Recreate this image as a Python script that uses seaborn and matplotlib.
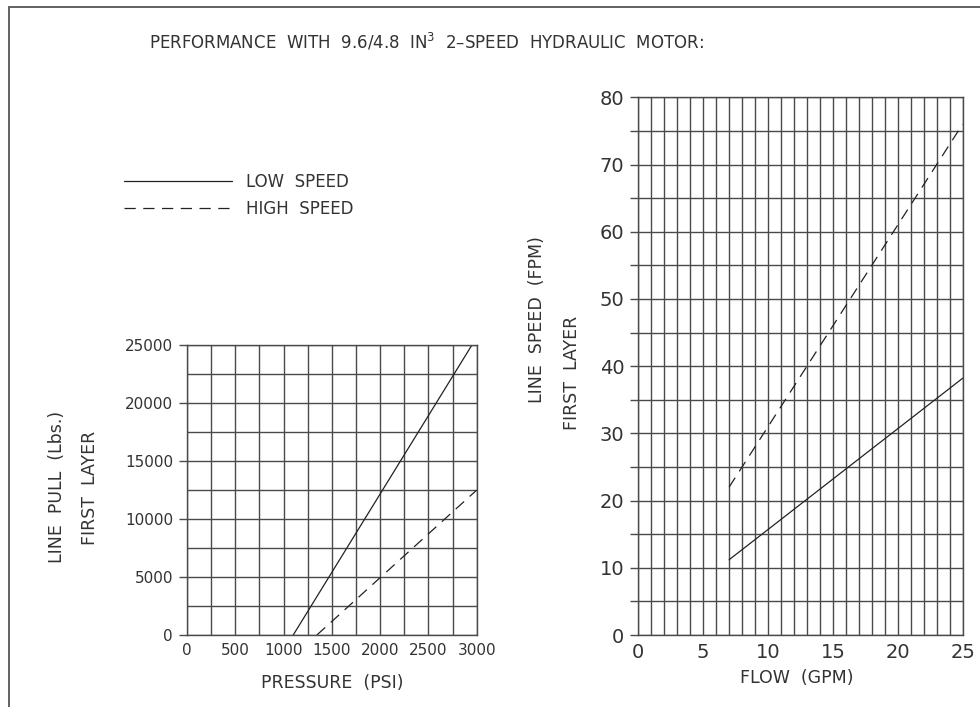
import pandas as pd
import matplotlib.pyplot as plt
import seaborn as sns
from matplotlib.lines import Line2D
from matplotlib.patches import Rectangle
from matplotlib.ticker import MultipleLocator

# valeurs
speeds = ['LOW SPEED', 'HIGH SPEED']
pressure_low = [1100, 2950]
pull_low = [0, 25000]
pressure_high = [1345, 3000]
pull_high = [0, 12500]
flow_low = [7, 25]
speed_low = [11.2, 38.2]
flow_high = [7, 25]
speed_high = [22, 76]

pull_df = pd.DataFrame({
    'pressure': pressure_low + pressure_high,
    'pull': pull_low + pull_high,
    'speed': [speeds[0]] * len(pressure_low) + [speeds[1]] * len(pressure_high),
})
flow_df = pd.DataFrame({
    'flow': flow_low + flow_high,
    'line_speed': speed_low + speed_high,
    'speed': [speeds[0]] * len(flow_low) + [speeds[1]] * len(flow_high),
})

sns.set_style('white')
plt.rcParams['font.family'] = ['DejaVu Sans']
ink = '#333333'
grid_c = '#4a4a4a'
dash_map = {speeds[0]: '', speeds[1]: (9, 6)}

fig = plt.figure(figsize=(9.8, 7.07), dpi=100)
ax1 = fig.add_axes([0.1908, 0.1018, 0.2956, 0.410])
ax2 = fig.add_axes([0.6513, 0.1018, 0.331, 0.7606])

sns.lineplot(data=pull_df, x='pressure', y='pull', style='speed', dashes=dash_map,
             color='#222222', lw=0.9, legend=False, sort=False, estimator=None, ax=ax1)
sns.lineplot(data=flow_df, x='flow', y='line_speed', style='speed', dashes=dash_map,
             color='#222222', lw=0.9, legend=False, sort=False, estimator=None, ax=ax2)

def style_axis(ax, xlim, ylim, xmaj, xmin, ymaj, ymin, fs, minor_ticks):
    ax.set_xlim(*xlim)
    ax.set_ylim(*ylim)
    ax.xaxis.set_major_locator(MultipleLocator(xmaj))
    ax.xaxis.set_minor_locator(MultipleLocator(xmin))
    ax.yaxis.set_major_locator(MultipleLocator(ymaj))
    ax.yaxis.set_minor_locator(MultipleLocator(ymin))
    ax.grid(True, which='both', color=grid_c, lw=1.0)
    ax.set_axisbelow(True)
    for s in ax.spines.values():
        s.set_color(grid_c)
        s.set_linewidth(1.0)
    ax.tick_params(axis='x', which='both', length=0, labelsize=fs, labelcolor=ink, pad=6)
    ax.tick_params(axis='y', which='major', left=True, length=6, width=1.0, color=grid_c,
                   labelsize=fs, labelcolor=ink, pad=4)
    ax.tick_params(axis='y', which='minor', left=minor_ticks, length=6, width=1.0, color=grid_c)
    ax.set_xlabel('')
    ax.set_ylabel('')

style_axis(ax1, (0, 3000), (0, 25000), 500, 250, 5000, 2500, 11, False)
style_axis(ax2, (0, 25), (0, 80), 5, 1, 10, 5, 14, True)

# titres et libellés
fig.text(0.435, 0.940, 'PERFORMANCE  WITH  9.6/4.8  IN$^3$  2\u2013SPEED  HYDRAULIC  MOTOR:',
         ha='center', va='center', fontsize=12, color=ink)
fig.text(332 / 980, 1 - 683 / 707, 'PRESSURE  (PSI)', ha='center', va='center', fontsize=12.5, color=ink)
fig.text(797 / 980, 1 - 678 / 707, 'FLOW  (GPM)', ha='center', va='center', fontsize=12.5, color=ink)
fig.text(57 / 980, 1 - 487 / 707, 'LINE  PULL  (Lbs.)', rotation=90, ha='center', va='center',
         fontsize=12.5, color=ink)
fig.text(90 / 980, 1 - 488 / 707, 'FIRST  LAYER', rotation=90, ha='center', va='center',
         fontsize=12.5, color=ink)
fig.text(537 / 980, 1 - 320 / 707, 'LINE  SPEED  (FPM)', rotation=90, ha='center', va='center',
         fontsize=12.5, color=ink)
fig.text(572 / 980, 1 - 373 / 707, 'FIRST  LAYER', rotation=90, ha='center', va='center',
         fontsize=12.5, color=ink)

# légende
handles = [Line2D([], [], color='#222222', lw=0.9, linestyle='-'),
           Line2D([], [], color='#222222', lw=0.9, dashes=dash_map[speeds[1]])]
fig.legend(handles, ['LOW  SPEED', 'HIGH  SPEED'], loc='upper left',
           bbox_to_anchor=(124 / 980, 1 - 173 / 707), frameon=False, borderpad=0,
           borderaxespad=0, handlelength=6.5, handletextpad=0.85, labelspacing=0.55,
           prop={'size': 12}, labelcolor=ink)

# cadre du dessin
fig.add_artist(Rectangle((9 / 980, -0.2), 2, 1 - 7 / 707 + 0.2, transform=fig.transFigure,
                         fill=False, edgecolor='#555555', lw=1.3))

fig.savefig('out.png', dpi=100, facecolor='white')
